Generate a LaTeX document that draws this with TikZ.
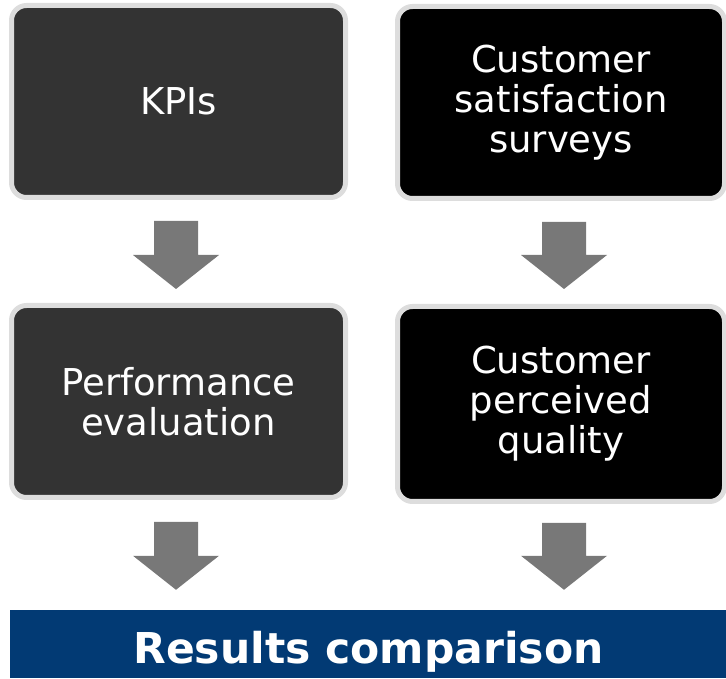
\documentclass[tikz,border=0pt]{standalone}
\usepackage{fontspec}
\setmainfont{DejaVu Sans}
\usetikzlibrary{calc}

\definecolor{rimgray}{HTML}{DDDDDD}
\definecolor{boxdark}{HTML}{333333}
\definecolor{arrowgray}{HTML}{787878}
\definecolor{barblue}{HTML}{023A74}

\tikzset{
  box/.style={draw=rimgray,line width=5pt,rounded corners=15pt,
    minimum width=334pt,minimum height=192pt,inner sep=0pt,
    text=white,align=center,font=\fontsize{37}{40}\selectfont},
  flow/.style={fill=arrowgray,to path={let \p1=(\tikztostart),\p2=(\tikztotarget) in
    (\x1-22pt,\y1)--(\x1+22pt,\y1)--(\x1+22pt,\y2+34pt)--(\x1+43pt,\y2+34pt)
    --(\x1,\y2)--(\x1-43pt,\y2+34pt)--(\x1-22pt,\y2+34pt)--cycle}}
}

\begin{document}
\begin{tikzpicture}[x=1pt,y=1pt,line join=round]
\useasboundingbox (0,0) rectangle (726,678);
% two columns of boxes
\node[box,fill=boxdark] (kpi) at (178.5,576.5) {KPIs};
\node[box,fill=black,minimum width=327pt] (survey) at (561,575.5) {Customer\\satisfaction\\surveys};
\node[box,fill=boxdark] (perf) at (178.5,276.5) {Performance\\evaluation};
\node[box,fill=black,minimum width=327pt,minimum height=195pt] (quality) at (561,274) {Customer\\perceived\\quality};
% bar at the bottom
\node[fill=barblue,minimum width=717pt,minimum height=68pt,inner sep=0pt,
  text height=38pt,text depth=0pt,
  text=white,font=\fontsize{42.5}{46}\selectfont\bfseries] (result) at (368.5,34) {Results comparison};
% block arrows
\path[flow] ([xshift=-2.5pt,yshift=-21pt]kpi.south) to ([xshift=-2.5pt,yshift=14pt]perf.north);
\path[flow] ([xshift=3pt,yshift=-21pt]survey.south) to ([xshift=3pt,yshift=15pt]quality.north);
\path[flow] ([xshift=-2.5pt,yshift=-22pt]perf.south) to ([xshift=-192.5pt,yshift=20pt]result.north);
\path[flow] ([xshift=3pt,yshift=-19pt]quality.south) to ([xshift=195.5pt,yshift=20pt]result.north);
\end{tikzpicture}
\end{document}
